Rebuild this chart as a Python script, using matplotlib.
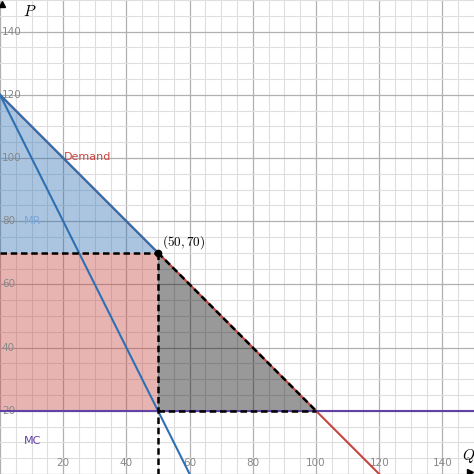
import matplotlib.pyplot as plt
from matplotlib.ticker import MultipleLocator

# chart values
demand_q = [0, 120]
demand_p = [120, 0]
mr_q = [0, 60]
mr_p = [120, 0]
mc_q = [0, 150]
mc_p = [20, 20]
opt_q, opt_p = 50, 70          # monopoly point
comp_q = 100                   # where demand meets MC
tick_vals = [20, 40, 60, 80, 100, 120, 140]

blue = '#2d70b3'
red = '#c74440'
purple = '#6042a6'

fig = plt.figure(figsize=(4.74, 4.74), dpi=100)
ax = fig.add_axes([0, 0, 1, 1])
ax.set_xlim(0, 150)
ax.set_ylim(0, 150)

# grid like the graphing calculator
ax.xaxis.set_major_locator(MultipleLocator(20))
ax.yaxis.set_major_locator(MultipleLocator(20))
ax.xaxis.set_minor_locator(MultipleLocator(5))
ax.yaxis.set_minor_locator(MultipleLocator(5))
ax.grid(which='major', color='#b0b0b0', lw=0.9, zorder=0)
ax.grid(which='minor', color='#dedede', lw=0.8, zorder=0)
ax.tick_params(which='both', length=0, labelbottom=False, labelleft=False)
for s in ax.spines.values():
    s.set_visible(False)
ax.set_axisbelow(True)

# tick labels drawn inside the plot
for v in tick_vals:
    ax.text(v, 3.6, str(v), color='#888888', fontsize=7.5, ha='center', va='center')
    ax.text(0.6, v, str(v), color='#888888', fontsize=7.5, ha='left', va='center')

# shaded areas
ax.fill([0, opt_q, 0], [demand_p[0], opt_p, opt_p], color=blue, alpha=0.4, lw=0, zorder=1)
ax.fill([0, opt_q, opt_q, 0], [mc_p[0], mc_p[0], opt_p, opt_p], color=red, alpha=0.4, lw=0, zorder=1)
ax.fill([opt_q, opt_q, comp_q], [opt_p, mc_p[0], mc_p[0]], color='black', alpha=0.4, lw=0, zorder=1)

# curves
ax.plot(demand_q, demand_p, color=red, lw=1.5, zorder=3)
ax.plot(mr_q, mr_p, color=blue, lw=1.5, zorder=3)
ax.plot(mc_q, mc_p, color=purple, lw=1.5, zorder=3)

# outline of the consumer surplus triangle
ax.plot([0, opt_q], [demand_p[0], opt_p], color=blue, lw=1.5, zorder=4)

# dashed guides
dash = dict(color='black', lw=1.8, dashes=(2.6, 1.5), zorder=5)
ax.plot([0, opt_q], [opt_p, opt_p], **dash)
ax.plot([opt_q, opt_q], [opt_p, 0], **dash)
ax.plot([opt_q, comp_q], [mc_p[0], mc_p[0]], **dash)
ax.plot([opt_q, comp_q], [opt_p, mc_p[0]], **dash)

ax.plot(opt_q, opt_p, 'o', color='black', ms=4.5, zorder=6)
ax.text(opt_q + 1.3, opt_p + 3.3, r'$(50,70)$', fontsize=9.5, color='black', ha='left', va='center',
        math_fontfamily='cm')

# curve labels
ax.text(20.2, 100.3, 'Demand', color=red, fontsize=8, ha='left', va='center')
ax.text(7.6, 80, 'MR', color='#7aa6d6', fontsize=8, ha='left', va='center')
ax.text(7.6, 10.3, 'MC', color=purple, fontsize=8, ha='left', va='center')

# axis names and arrows
ax.text(7.3, 146.4, r'$P$', fontsize=11, ha='left', va='center', math_fontfamily='cm')
ax.text(146.2, 5.6, r'$Q$', fontsize=11, ha='left', va='center', math_fontfamily='cm')
ax.plot(0.6, 148.8, marker='^', color='black', ms=5, clip_on=False, zorder=7)
ax.plot(148.8, 0.6, marker='>', color='black', ms=5, clip_on=False, zorder=7)

fig.savefig('out.png', dpi=100)
